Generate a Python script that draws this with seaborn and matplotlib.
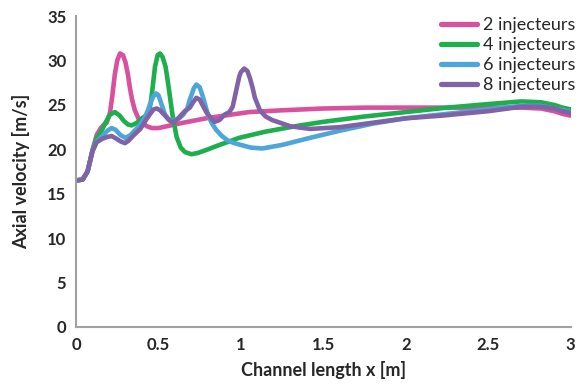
import numpy as np
import pandas as pd
import matplotlib
matplotlib.use("Agg")
import matplotlib.pyplot as plt
import seaborn as sns

# Axial velocity profiles along the channel for different injector counts
x_2inj = [0, 0.04, 0.07, 0.10, 0.125, 0.15, 0.17, 0.186, 0.206, 0.22, 0.235, 0.25,
          0.267, 0.285, 0.30, 0.315, 0.327, 0.34, 0.357, 0.378, 0.40, 0.43, 0.46, 0.50,
          0.55, 0.65, 0.79, 0.9, 1.05, 1.25, 1.5, 1.75, 2.0, 2.25, 2.5, 2.7, 2.82, 2.9,
          2.95, 3.0]
v_2inj = [16.5, 16.6, 17.5, 19.9, 21.6, 22.4, 22.8, 23.0, 24.1, 26.0, 28.4, 30.0,
          30.8, 30.6, 29.8, 28.4, 26.9, 25.6, 24.4, 23.5, 23.0, 22.6, 22.4, 22.4,
          22.6, 23.0, 23.5, 23.8, 24.2, 24.4, 24.6, 24.7, 24.7, 24.7, 24.7, 24.7, 24.6,
          24.3, 24.0, 23.8]

x_4inj = [0, 0.04, 0.07, 0.10, 0.125, 0.15, 0.176, 0.205, 0.236, 0.265, 0.29, 0.315,
          0.337, 0.37, 0.40, 0.425, 0.44, 0.453, 0.463, 0.479, 0.495, 0.509, 0.525,
          0.543, 0.554, 0.564, 0.584, 0.61, 0.635, 0.66, 0.70, 0.74, 0.80, 0.87, 0.99,
          1.15, 1.36, 1.5, 1.75, 2.0, 2.25, 2.5, 2.7, 2.82, 2.9, 2.95, 3.0]
v_4inj = [16.5, 16.6, 17.5, 19.9, 21.3, 21.9, 22.9, 23.9, 24.2, 23.8, 23.2, 22.8,
          22.7, 23.0, 23.5, 23.8, 24.2, 25.2, 26.7, 29.3, 30.6, 30.8, 30.4,
          29.3, 28.0, 26.7, 24.0, 21.4, 20.2, 19.7, 19.45, 19.6, 20.0, 20.5, 21.3,
          22.0, 22.7, 23.1, 23.7, 24.2, 24.7, 25.1, 25.4, 25.3, 25.0, 24.7, 24.5]

x_6inj = [0, 0.04, 0.07, 0.10, 0.125, 0.16, 0.19, 0.216, 0.24, 0.27, 0.30, 0.33, 0.36,
          0.39, 0.415, 0.436, 0.455, 0.47, 0.485, 0.50, 0.52, 0.54, 0.56, 0.59, 0.62,
          0.65, 0.675, 0.69, 0.70, 0.715, 0.73, 0.75, 0.77, 0.785, 0.80, 0.825, 0.85,
          0.885, 0.92, 0.96, 1.0, 1.06, 1.13, 1.25, 1.42, 1.6, 1.8, 2.0, 2.25, 2.5,
          2.7, 2.82, 2.9, 2.95, 3.0]
v_6inj = [16.5, 16.6, 17.5, 19.8, 20.9, 21.5, 22.1, 22.4, 22.2, 21.6, 21.3, 21.6, 22.2,
          22.8, 23.5, 24.4, 25.4, 26.0, 26.3, 26.1, 25.0, 23.9, 23.4, 23.2, 23.4,
          23.9, 24.6, 25.6, 26.1, 26.9, 27.3, 27.0, 25.9, 24.9, 23.9, 22.9, 22.2,
          21.5, 21.0, 20.7, 20.5, 20.2, 20.1, 20.5, 21.3, 22.1, 22.9, 23.5, 24.0, 24.5,
          24.9, 24.9, 24.6, 24.4, 24.2]

x_8inj = [0, 0.04, 0.07, 0.10, 0.125, 0.16, 0.19, 0.216, 0.245, 0.27, 0.297, 0.32,
          0.35, 0.39, 0.42, 0.45, 0.47, 0.49, 0.51, 0.54, 0.57, 0.59, 0.62, 0.66, 0.69,
          0.71, 0.73, 0.75, 0.77, 0.79, 0.815, 0.84, 0.87, 0.90, 0.93, 0.95, 0.97,
          0.99, 1.0, 1.02, 1.04, 1.055, 1.07, 1.085, 1.115, 1.15, 1.19, 1.3, 1.42, 1.6,
          1.8, 2.0, 2.22, 2.5, 2.7, 2.82, 2.9, 2.95, 3.0]
v_8inj = [16.5, 16.6, 17.5, 19.8, 20.8, 21.2, 21.4, 21.5, 21.2, 20.9, 20.7, 21.0,
          21.6, 22.3, 23.2, 24.0, 24.5, 24.6, 24.4, 23.8, 23.2, 23.0, 23.5, 24.3, 24.7,
          25.3, 25.8, 25.6, 24.9, 24.2, 23.6, 23.1, 23.3, 23.9, 24.2, 24.8, 26.5,
          28.2, 28.7, 29.1, 28.8, 28.0, 27.0, 25.8, 24.4, 23.7, 23.3, 22.6, 22.3, 22.5,
          23.0, 23.5, 23.8, 24.3, 24.8, 24.8, 24.6, 24.3, 24.1]

series_names = ["2 injecteurs", "4 injecteurs", "6 injecteurs", "8 injecteurs"]
series_colors = ["#D9509F", "#1DAE4E", "#4DA5D8", "#8062A6"]

x_ticks = [0, 0.5, 1, 1.5, 2, 2.5, 3]
x_tick_labels = ["0", "0.5", "1", "1.5", "2", "2.5", "3"]
y_ticks = [0, 5, 10, 15, 20, 25, 30, 35]

frames = []
for name, xs, vs in zip(series_names,
                        [x_2inj, x_4inj, x_6inj, x_8inj],
                        [v_2inj, v_4inj, v_6inj, v_8inj]):
    frames.append(pd.DataFrame({"x": xs, "v": vs, "series": name}))
df = pd.concat(frames, ignore_index=True)

sns.set_theme(style="white")
plt.rcParams["font.family"] = ["Lato", "DejaVu Sans"]

fig = plt.figure(figsize=(5.82, 3.91), dpi=100)
ax = fig.add_axes([0.1306, 0.1637, 0.850, 0.795])

sns.lineplot(data=df, x="x", y="v", hue="series", hue_order=series_names,
             palette=series_colors, estimator=None, sort=False, linewidth=3.3,
             ax=ax, legend=True)
for ln in ax.lines:
    ln.set_solid_capstyle("round")
    ln.set_solid_joinstyle("round")

ax.set_xlim(0, 3)
ax.set_ylim(0, 35)
ax.set_xticks(x_ticks)
ax.set_xticklabels(x_tick_labels)
ax.set_yticks(y_ticks)
ax.tick_params(axis="both", length=0, labelsize=12, pad=7)
for lbl in ax.get_xticklabels() + ax.get_yticklabels():
    lbl.set_fontweight("bold")

ax.set_xlabel("Channel length x [m]", fontsize=13, fontweight="bold", labelpad=6)
ax.set_ylabel("Axial velocity [m/s]", fontsize=13, fontweight="bold", labelpad=12)

for side in ["top", "right"]:
    ax.spines[side].set_visible(False)
for side in ["left", "bottom"]:
    ax.spines[side].set_color("#A0A0A0")
    ax.spines[side].set_linewidth(1.5)

leg = ax.legend(loc="upper right", bbox_to_anchor=(1.025, 1.02), frameon=False,
                fontsize=13, handlelength=2.0, handletextpad=0.35, labelspacing=0.22,
                borderaxespad=0)
for h in leg.get_lines():
    h.set_linewidth(3.8)

fig.savefig("out.png", dpi=100)
